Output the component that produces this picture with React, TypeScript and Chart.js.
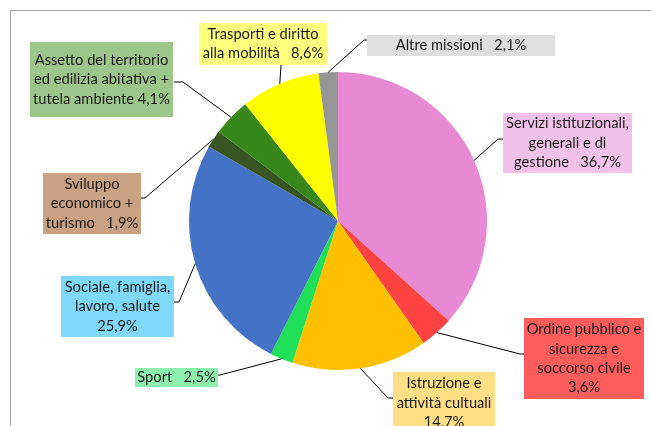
import React, { useEffect, useRef } from "react";
import { Chart, registerables } from "chart.js";

Chart.register(...registerables);

const categories = [
  "Servizi istituzionali, generali e di gestione",
  "Ordine pubblico e sicurezza e soccorso civile",
  "Istruzione e attività cultuali",
  "Sport",
  "Sociale, famiglia, lavoro, salute",
  "Sviluppo economico + turismo",
  "Assetto del territorio ed edilizia abitativa + tutela ambiente",
  "Trasporti e diritto alla mobilità",
  "Altre missioni",
];
const values = [36.7, 3.6, 14.7, 2.5, 25.9, 1.9, 4.1, 8.6, 2.1];
const labelLines = [
  ["Servizi istituzionali,", "generali e di", "gestione   36,7%"],
  ["Ordine pubblico e", "sicurezza e", "soccorso civile", "3,6%"],
  ["Istruzione e", "attività cultuali", "14,7%"],
  ["Sport   2,5%"],
  ["Sociale, famiglia,", "lavoro, salute", "25,9%"],
  ["Sviluppo", "economico +", "turismo   1,9%"],
  ["Assetto del territorio", "ed edilizia abitativa +", "tutela ambiente 4,1%"],
  ["Trasporti e diritto", "alla mobilità   8,6%"],
  ["Altre missioni   2,1%"],
];
const sliceColors = [
  "#E88AD3", "#FF4343", "#FFC000", "#20E05A", "#4472C4",
  "#375623", "#38871A", "#FFFF00", "#969696",
];
const boxColors = [
  "#F2C1E9", "#FF5C5C", "#FFDE85", "#8DF0AE", "#80D8F8",
  "#C9A283", "#9DC68B", "#FFFF80", "#DEDEDE",
];

// label box layout: [x, y, w, h], attach point on box, elbow point
const labelLayout = [
  { box: [503, 113, 129, 60], attach: [503, 139], elbow: [498, 139] },
  { box: [524, 318, 120, 81], attach: [524, 354], elbow: [520, 354] },
  { box: [393, 372, 102, 62], attach: [393, 398], elbow: [388, 398] },
  { box: [135, 368, 83, 19], attach: [218, 375], elbow: [220, 375] },
  { box: [61, 276, 113, 61], attach: [174, 302], elbow: [179, 302] },
  { box: [43, 173, 98, 61], attach: [141, 198], elbow: [145, 198] },
  { box: [30, 42, 143, 75], attach: [174, 82], elbow: [183, 82] },
  { box: [199, 23, 128, 42], attach: [281, 65], elbow: [281, 66] },
  { box: [367, 35, 188, 21], attach: [367, 40], elbow: [364, 40] },
];

const FONT = "14.7px Lato, 'Open Sans', sans-serif";
const LINE_H = 19.3;

const labelPlugin = {
  id: "boxLabels",
  beforeDraw(chart: any) {
    const ctx = chart.ctx;
    ctx.save();
    ctx.strokeStyle = "#A6A6A6";
    ctx.lineWidth = 1;
    ctx.beginPath();
    ctx.moveTo(10.5, 426);
    ctx.lineTo(10.5, 10.5);
    ctx.lineTo(651, 10.5);
    ctx.stroke();
    ctx.restore();
  },
  afterDraw(chart: any) {
    const ctx = chart.ctx;
    const meta = chart.getDatasetMeta(0);
    ctx.save();
    meta.data.forEach((arc: any, i: number) => {
      const lay = labelLayout[i];
      if (!lay) return;
      const p = arc.getProps(["x", "y", "startAngle", "endAngle", "outerRadius"], true);
      const mid = (p.startAngle + p.endAngle) / 2;
      const ax = p.x + Math.cos(mid) * p.outerRadius;
      const ay = p.y + Math.sin(mid) * p.outerRadius;
      ctx.strokeStyle = "#000000";
      ctx.lineWidth = 1;
      ctx.beginPath();
      ctx.moveTo(ax, ay);
      ctx.lineTo(lay.elbow[0], lay.elbow[1]);
      ctx.lineTo(lay.attach[0], lay.attach[1]);
      ctx.stroke();
      const [bx, by, bw, bh] = lay.box;
      ctx.fillStyle = boxColors[i];
      ctx.fillRect(bx, by, bw, bh);
      const lines = labelLines[i];
      ctx.font = FONT;
      ctx.fillStyle = "#1A1A1A";
      ctx.textAlign = "center";
      ctx.textBaseline = "middle";
      const cy = by + bh / 2;
      const startY = cy - ((lines.length - 1) * LINE_H) / 2;
      lines.forEach((ln, k) => {
        ctx.fillText(ln, bx + bw / 2, startY + k * LINE_H);
      });
    });
    ctx.restore();
  },
};

export default function App() {
  const ref = useRef<HTMLCanvasElement>(null);
  useEffect(() => {
    document.body.style.margin = "0";
    const chart = new Chart(ref.current!, {
      type: "pie",
      data: {
        labels: categories,
        datasets: [
          {
            data: values,
            backgroundColor: sliceColors,
            borderWidth: 0,
          },
        ],
      },
      options: {
        responsive: false,
        animation: false,
        layout: { padding: { left: 189, right: 164, top: 72, bottom: 56 } },
        plugins: {
          legend: { display: false },
          tooltip: { enabled: false },
        },
      },
      plugins: [labelPlugin],
    });
    return () => chart.destroy();
  }, []);
  return (
    <div style={{ width: 651, height: 426, background: "#fff", overflow: "hidden" }}>
      <canvas ref={ref} width={651} height={426} style={{ display: "block" }} />
    </div>
  );
}
